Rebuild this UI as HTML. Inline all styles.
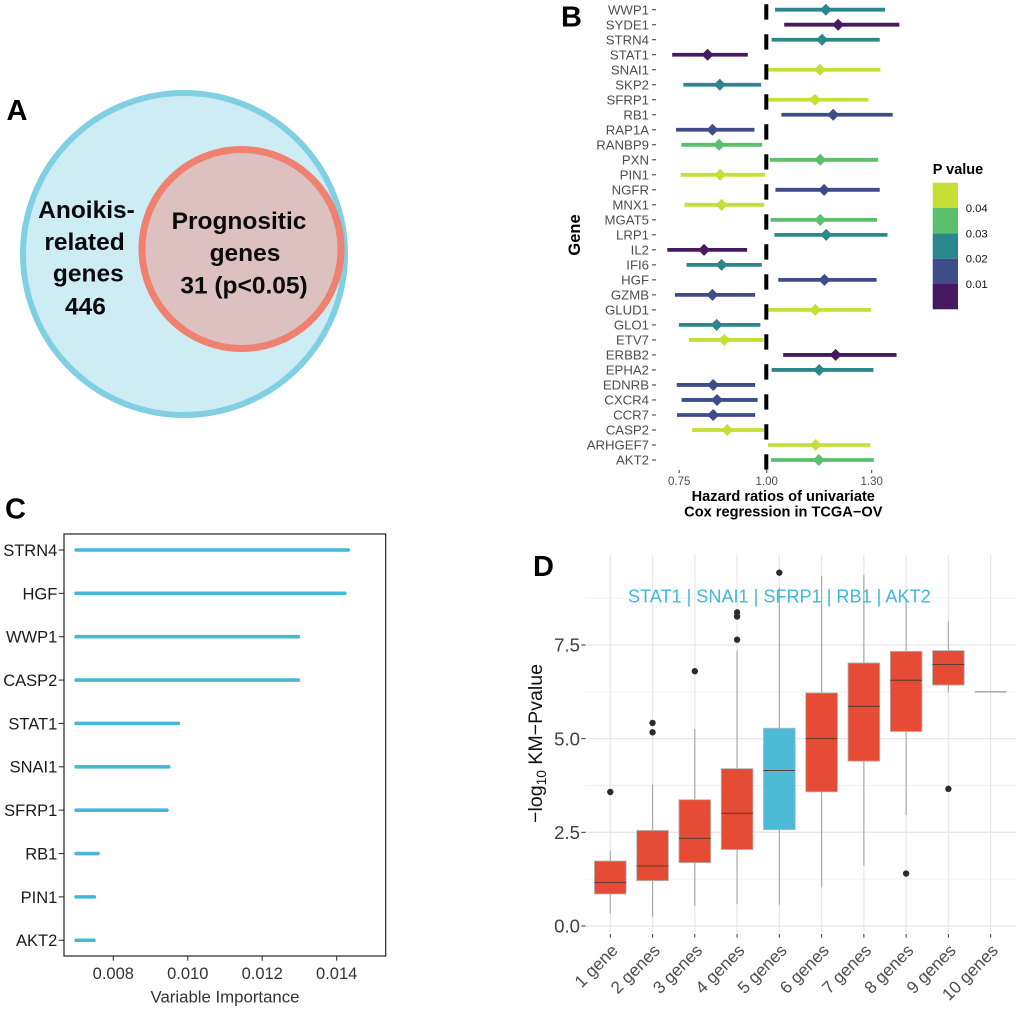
<!DOCTYPE html>
<html lang="en">
<head>
<meta charset="utf-8">
<title>Anoikis-related prognostic genes figure</title>
<style>
html,body{margin:0;padding:0;background:#fff;width:1020px;height:1010px;overflow:hidden}
svg{display:block;font-family:"Liberation Sans",Arial,sans-serif}
</style>
</head>
<body>
<svg id="figure" xmlns="http://www.w3.org/2000/svg" width="1020" height="1010" viewBox="0 0 1020 1010">
  <rect x="0" y="0" width="1020" height="1010" fill="#ffffff"/>

  <g>
    <circle cx="184" cy="254" r="161" fill="#CDECF4" stroke="#80CFE3" stroke-width="6"/>
    <circle cx="241.5" cy="249" r="99.5" fill="#DCC1C0" stroke="#F0806F" stroke-width="7"/>
    <g font-weight="700" fill="#0a0a0a" text-anchor="middle" font-size="24.5">
      <text x="86.5" y="218">Anoikis-</text>
      <text x="84.5" y="250">related</text>
      <text x="88.3" y="281.7">genes</text>
      <text x="85.5" y="314.3">446</text>
      <text x="239" y="229">Prognositic</text>
      <text x="245" y="261">genes</text>
      <text x="244" y="293.3">31 (p&lt;0.05)</text>
    </g>
  </g>

  <g font-weight="700" font-size="29" fill="#000">
    <text x="6.5" y="120">A</text>
    <text x="561" y="26.7">B</text>
    <text x="5" y="518.5">C</text>
    <text x="533" y="576">D</text>
  </g>

  <g id="panelB"></g>
  <g id="panelC"></g>
  <g id="panelD"></g>
</svg>

<script>
/* ---------- Panel B data ---------- */
const bGenes = ["WWP1","SYDE1","STRN4","STAT1","SNAI1","SKP2","SFRP1","RB1","RAP1A","RANBP9","PXN","PIN1","NGFR","MNX1","MGAT5","LRP1","IL2","IFI6","HGF","GZMB","GLUD1","GLO1","ETV7","ERBB2","EPHA2","EDNRB","CXCR4","CCR7","CASP2","ARHGEF7","AKT2"];
const bLower = [1.024,1.050,1.014,0.730,1.004,0.762,1.004,1.042,0.741,0.756,1.009,0.754,1.025,0.765,1.011,1.022,0.716,0.771,1.033,0.738,1.004,0.749,0.778,1.047,1.014,0.743,0.757,0.744,0.787,1.004,1.012];
const bHazard = [1.169,1.204,1.158,0.831,1.152,0.866,1.138,1.190,0.845,0.864,1.153,0.867,1.164,0.871,1.153,1.170,0.821,0.871,1.165,0.845,1.139,0.857,0.879,1.197,1.150,0.847,0.858,0.847,0.887,1.140,1.149];
const bUpper = [1.338,1.379,1.323,0.946,1.325,0.984,1.291,1.360,0.965,0.987,1.318,0.995,1.323,0.993,1.315,1.345,0.944,0.986,1.314,0.967,1.298,0.982,0.991,1.371,1.305,0.967,0.974,0.967,0.992,1.296,1.306];
const bPValues = [0.025,0.005,0.025,0.005,0.045,0.025,0.045,0.015,0.015,0.035,0.035,0.045,0.015,0.045,0.035,0.025,0.005,0.025,0.015,0.015,0.045,0.025,0.045,0.005,0.025,0.015,0.015,0.015,0.045,0.045,0.035];
const bXTicks = ["0.75","1.00","1.30"];
const bPalette = ["#47195F","#3F4C8A","#2A878B","#5BBF6B","#C8DE38"];
const bLegendBreaks = ["0.01","0.02","0.03","0.04"];

/* ---------- Panel C data ---------- */
const cGenes = ["STRN4","HGF","WWP1","CASP2","STAT1","SNAI1","SFRP1","RB1","PIN1","AKT2"];
const cImportance = [0.01431,0.01422,0.01297,0.01297,0.00975,0.00949,0.00944,0.00759,0.00749,0.00748];
const cBaseline = 0.007;
const cXTicks = ["0.008","0.010","0.012","0.014"];

/* ---------- Panel D data ---------- */
const dCategories = ["1 gene","2 genes","3 genes","4 genes","5 genes","6 genes","7 genes","8 genes","9 genes","10 genes"];
const dQ1 = [0.854,1.21,1.69,2.04,2.57,3.58,4.40,5.19,6.43,6.25];
const dMedian = [1.157,1.60,2.34,3.01,4.15,5.00,5.86,6.56,6.98,6.25];
const dQ3 = [1.735,2.55,3.37,4.20,5.28,6.22,7.02,7.33,7.35,6.25];
const dWhiskerLow = [0.338,0.25,0.54,0.58,0.57,1.03,1.61,2.96,6.23,6.25];
const dWhiskerHigh = [2.01,3.78,5.26,7.35,9.03,9.34,9.37,8.70,8.13,6.25];
const dOutliers = [[3.576],[5.42,5.17],[6.80],[7.64,8.26,8.37],[9.43],[],[],[1.40],[3.66],[]];
const dHighlighted = ["5 genes"];
const dYTicks = ["0.0","2.5","5.0","7.5"];
const dYMinor = [1.25,3.75,6.25,8.75];

/* ---------- Helpers and axis functions ---------- */
const NS = "http://www.w3.org/2000/svg";
function mk(parent, tag, attrs, text) {
  const el = document.createElementNS(NS, tag);
  for (const k in attrs) el.setAttribute(k, attrs[k]);
  if (text !== undefined) el.textContent = text;
  parent.appendChild(el);
  return el;
}
const xB = v => 766.7 + (v - 1) * 350;
const yB = i => 9.7 + i * 15.01;
const yLegend = p => 309.3 - p * 2532;
const colourB = p => bPalette[Math.min(bPalette.length - 1, Math.floor(p / 0.01))];
const xC = v => 113.3 + (v - 0.008) * 37230;
const yC = i => 550 + i * 43.36;
const xD = i => 610.3 + i * 42.26;
const yD = v => 926 - v * 37.47;

/* ---------- Panel B ---------- */
const pB = document.getElementById("panelB");
bGenes.forEach((gene, i) => {
  const y = yB(i);
  const c = colourB(bPValues[i]);
  const lab = mk(pB, "text", {x: 649, y: y + 4.6, "text-anchor": "end", "font-size": 13.2, fill: "#4D4D4D"}, gene);
  
  
  const tick = mk(pB, "line", {x1: 652, x2: 656, y1: y, y2: y, stroke: "#333", "stroke-width": 1});
  
  
  const ci = mk(pB, "line", {x1: xB(bLower[i]), x2: xB(bUpper[i]), y1: y, y2: y, stroke: c, "stroke-width": 3.8});
  
  
  const cx = xB(bHazard[i]);
  const d = mk(pB, "polygon", {points: [[cx - 6, y], [cx, y - 6], [cx + 6, y], [cx, y + 6]].join(" "), fill: c});
  
  
});
const refLine = mk(pB, "line", {x1: xB(1) - 0.4, x2: xB(1) - 0.4, y1: 4.3, y2: 469.7, stroke: "#000", "stroke-width": 4, "stroke-dasharray": "15.3 14.7"});


bXTicks.forEach(t => {
  const x = xB(parseFloat(t));
  const tk = mk(pB, "line", {x1: x, x2: x, y1: 470, y2: 473, stroke: "#333", "stroke-width": 1});
  
  
  const lb = mk(pB, "text", {x: x, y: 485, "text-anchor": "middle", "font-size": 11.5, fill: "#4D4D4D"}, t);
  
  
});
const bT1 = mk(pB, "text", {x: 783.3, y: 500.8, "text-anchor": "middle", "font-size": 14.6, "font-weight": 700, fill: "#000"}, "Hazard ratios of univariate");


const bT2 = mk(pB, "text", {x: 783.3, y: 516.5, "text-anchor": "middle", "font-size": 14.6, "font-weight": 700, fill: "#000"}, "Cox regression in TCGA\u2212OV");


const bY = mk(pB, "text", {transform: "translate(580,235) rotate(-90)", "text-anchor": "middle", "font-size": 16.5, "font-weight": 700, fill: "#000"}, "Gene");


const legT = mk(pB, "text", {x: 932.7, y: 174, "font-size": 14.5, "font-weight": 700, fill: "#000"}, "P value");


bPalette.forEach((c, i) => {
  const top = yLegend((i + 1) * 0.01), bot = yLegend(i * 0.01);
  const s = mk(pB, "rect", {x: 932.7, y: top, width: 25.3, height: bot - top, fill: c});
  
  
});
bLegendBreaks.forEach(t => {
  const l = mk(pB, "text", {x: 965.7, y: yLegend(parseFloat(t)) + 4, "font-size": 11.3, fill: "#111"}, t);
  
  
});

/* ---------- Panel C ---------- */
const pC = document.getElementById("panelC");
const frame = mk(pC, "rect", {x: 64, y: 534, width: 321.7, height: 422, fill: "none", stroke: "#222", "stroke-width": 1.2});


cGenes.forEach((gene, i) => {
  const y = yC(i);
  const lb = mk(pC, "text", {x: 57.3, y: y + 5.9, "text-anchor": "end", "font-size": 16.5, fill: "#1a1a1a"}, gene);
  
  
  const tk = mk(pC, "line", {x1: 58.7, x2: 64, y1: y, y2: y, stroke: "#222", "stroke-width": 1});
  
  
  const b = mk(pC, "line", {x1: xC(cBaseline), x2: xC(cImportance[i]), y1: y, y2: y, stroke: "#45B8D6", "stroke-width": 3.6, "stroke-linecap": "round"});
  
  
});
cXTicks.forEach(t => {
  const x = xC(parseFloat(t));
  const tk = mk(pC, "line", {x1: x, x2: x, y1: 956, y2: 960.7, stroke: "#222", "stroke-width": 1});
  
  
  const lb = mk(pC, "text", {x: x, y: 979, "text-anchor": "middle", "font-size": 16.5, fill: "#333"}, t);
  
  
});
const cT = mk(pC, "text", {x: 225, y: 1002.7, "text-anchor": "middle", "font-size": 16.8, fill: "#333"}, "Variable Importance");



/* ---------- Panel D ---------- */
const pD = document.getElementById("panelD");
const panelL = 585, panelR = 1016, panelT = 555, panelB = 932;
dYMinor.forEach(v => {
  const g = mk(pD, "line", {x1: panelL, x2: panelR, y1: yD(v), y2: yD(v), stroke: "#F1F1F1", "stroke-width": 1});
  
  
});
dYTicks.forEach(t => {
  const y = yD(parseFloat(t));
  const g = mk(pD, "line", {x1: panelL, x2: panelR, y1: y, y2: y, stroke: "#E8E8E8", "stroke-width": 1.3});
  
  
  const tk = mk(pD, "line", {x1: 581.3, x2: 585.5, y1: y, y2: y, stroke: "#333", "stroke-width": 1});
  
  
  const lb = mk(pD, "text", {x: 580, y: y + 6.6, "text-anchor": "end", "font-size": 18.6, fill: "#404040"}, t);
  
  
});
dCategories.forEach((cat, i) => {
  const x = xD(i);
  const slug = cat.replace(/\s+/g, '-');
  const vg = mk(pD, "line", {x1: x, x2: x, y1: panelT, y2: panelB, stroke: "#E8E8E8", "stroke-width": 1.3});
  
  
});
dCategories.forEach((cat, i) => {
  const x = xD(i);
  const slug = cat.replace(/\s+/g, '-');
  const fill = dHighlighted.includes(cat) ? "#4DBBD5" : "#E64B35";
  const wh = mk(pD, "line", {x1: x, x2: x, y1: yD(dWhiskerLow[i]), y2: yD(dWhiskerHigh[i]), stroke: "#ABABAB", "stroke-width": 1.2});
  
  
  const box = mk(pD, "rect", {x: x - 15.85, y: yD(dQ3[i]), width: 31.7, height: yD(dQ1[i]) - yD(dQ3[i]), fill: fill, stroke: "#B5B5B5", "stroke-width": 0.8});
  
  
  const med = mk(pD, "line", {x1: x - 15.85, x2: x + 15.85, y1: yD(dMedian[i]), y2: yD(dMedian[i]), stroke: i === 9 ? "#808080" : "#5A3A33", "stroke-width": 1});
  
  
  dOutliers[i].forEach((v, j) => {
    const o = mk(pD, "circle", {cx: x, cy: yD(v), r: 3.2, fill: "#2B2B2B"});
    
    
  });
  const tk = mk(pD, "line", {x1: x, x2: x, y1: 934, y2: 937.7, stroke: "#333", "stroke-width": 1});
  
  
  const ax = x + 8.5, ay = 951.5;
  const lb = mk(pD, "text", {x: ax, y: ay, "text-anchor": "end", "font-size": 17.2, fill: "#4D4D4D", transform: "rotate(-45 " + ax + " " + ay + ")"}, cat);
  
  
});
const sig = mk(pD, "text", {x: 779.3, y: 602.7, "text-anchor": "middle", "font-size": 18.1, fill: "#3FB8D8"}, "STAT1 | SNAI1 | SFRP1 | RB1 | AKT2");


const dY = mk(pD, "text", {transform: "translate(542,743.5) rotate(-90)", "text-anchor": "middle", "font-size": 19.6, fill: "#111"});


mk(dY, "tspan", {}, "\u2212log");
mk(dY, "tspan", {dy: 4, "font-size": 13.7}, "10");
mk(dY, "tspan", {dy: -4}, " KM\u2212Pvalue");
</script>
</body>
</html>
